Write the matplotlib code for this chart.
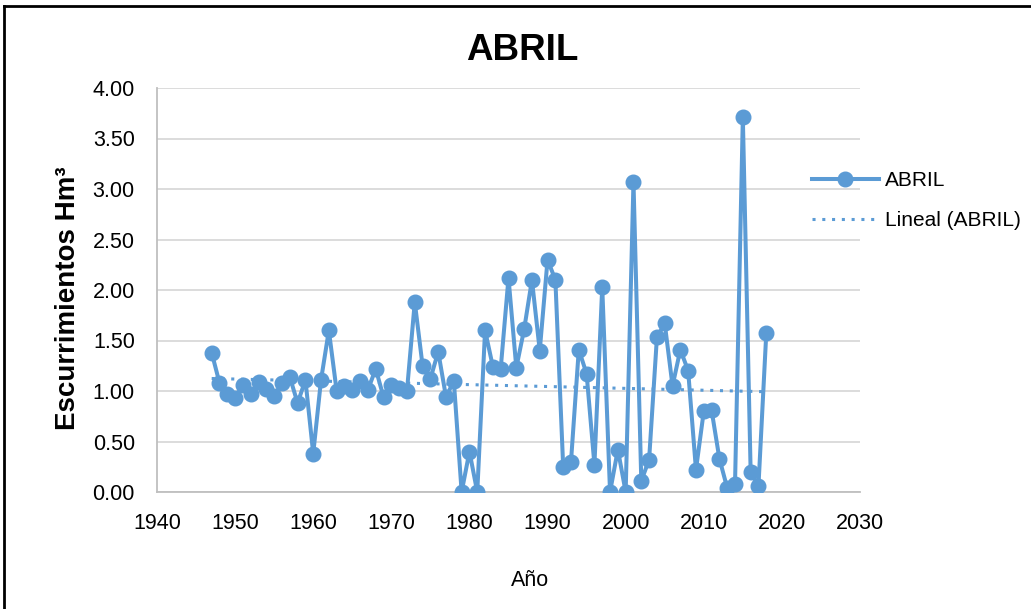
import numpy as np
import matplotlib
matplotlib.use("Agg")
import matplotlib.pyplot as plt
from matplotlib.lines import Line2D

# ---------------- data ----------------
years = list(range(1947, 2019))
abril = [
    1.38, 1.08, 0.97, 0.93, 1.06, 0.97, 1.09, 1.02, 0.95, 1.08,   # 1947-1956
    1.14, 0.88, 1.11, 0.38, 1.11, 1.60, 1.00, 1.05, 1.01, 1.10,   # 1957-1966
    1.01, 1.22, 0.94, 1.06, 1.03, 1.00, 1.88, 1.25, 1.12, 1.39,   # 1967-1976
    0.94, 1.10, 0.00, 0.40, 0.00, 1.60, 1.24, 1.22, 2.12, 1.23,   # 1977-1986
    1.61, 2.10, 1.40, 2.30, 2.10, 0.25, 0.30, 1.41, 1.17, 0.27,   # 1987-1996
    2.03, 0.00, 0.42, 0.00, 3.07, 0.11, 0.32, 1.53, 1.67, 1.05,   # 1997-2006
    1.41, 1.20, 0.22, 0.80, 0.81, 0.33, 0.04, 0.08, 3.71, 0.20,   # 2007-2016
    0.06, 1.57,                                                   # 2017-2018
]
x_ticks = [1940, 1950, 1960, 1970, 1980, 1990, 2000, 2010, 2020, 2030]
y_ticks = [0.0, 0.5, 1.0, 1.5, 2.0, 2.5, 3.0, 3.5, 4.0]

BLUE = "#5B9BD5"
GRID = "#D9D9D9"
plt.rcParams["font.family"] = ["Liberation Sans", "DejaVu Sans"]

W, H = 1031, 609
fig = plt.figure(figsize=(W / 100, H / 100), dpi=100)
ax = fig.add_axes([157 / W, 1 - 492 / H, (860 - 157) / W, (492 - 88) / H])

# outer chart border (left + top visible in the reference)
fig.add_artist(Line2D([4 / W, 4 / W], [0, 1 - 6 / H], color="black", lw=2.0,
                      transform=fig.transFigure))
fig.add_artist(Line2D([4 / W, 1], [1 - 6 / H, 1 - 6 / H], color="black", lw=2.0,
                      transform=fig.transFigure))

x = np.array(years, dtype=float)
y = np.array(abril)

# linear trend, like Excel's "Lineal"
coef = np.polyfit(x, y, 1)
ax.plot(x, np.polyval(coef, x), color=BLUE, lw=2.2, linestyle=(0, (1, 2.2)),
        label="Lineal (ABRIL)", zorder=2)
ax.plot(x, y, color=BLUE, lw=2.9, marker="o", markersize=10.5, label="ABRIL", zorder=3)

ax.set_xlim(1940, 2030)
ax.set_ylim(0, 4)
ax.set_xticks(x_ticks)
ax.set_yticks(y_ticks)
ax.set_yticklabels([f"{v:.2f}" for v in y_ticks])
ax.tick_params(axis="both", length=0, labelsize=15.5, colors="black")
ax.tick_params(axis="x", pad=15)
ax.tick_params(axis="y", pad=16)

ax.grid(axis="y", color=GRID, lw=1.3)
ax.set_axisbelow(True)
for side in ("top", "right"):
    ax.spines[side].set_visible(False)
for side in ("left", "bottom"):
    ax.spines[side].set_color("#BFBFBF")
    ax.spines[side].set_linewidth(1.3)

fig.text(522 / W, 1 - 50 / H, "ABRIL", fontsize=26.5, fontweight="bold",
         ha="center", va="center")
fig.text(68 / W, 1 - 298 / H, "Escurrimientos Hm³", fontsize=20, fontweight="bold",
         rotation=90, ha="center", va="center")
fig.text(530 / W, 1 - 581 / H, "Año", fontsize=15.5, ha="center", va="center")

handles, labels = ax.get_legend_handles_labels()
leg = ax.legend(handles[::-1], labels[::-1], loc="upper left",
                bbox_to_anchor=(0.905, 0.84), frameon=False, fontsize=15,
                handlelength=3.2, labelspacing=1.0, handletextpad=0.3)

fig.savefig("out.png", dpi=100)
